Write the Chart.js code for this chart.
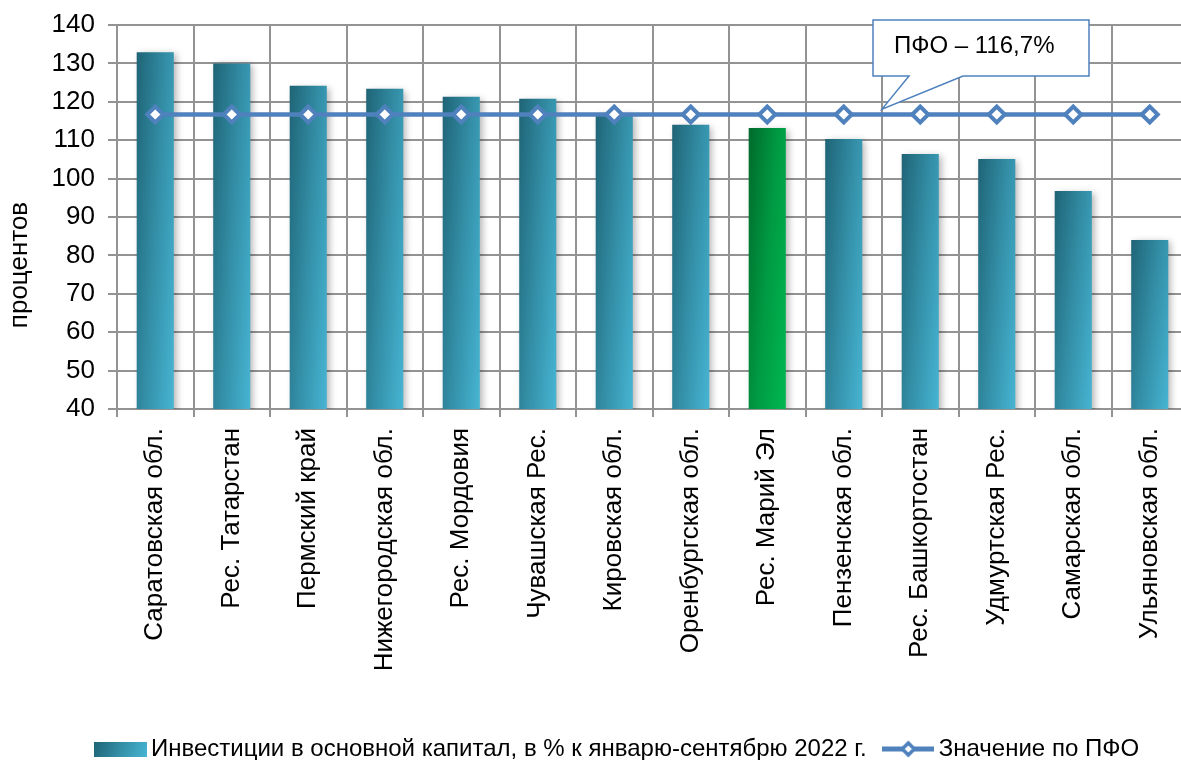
<!DOCTYPE html>
<html>
<head>
<meta charset="utf-8">
<script src="https://cdn.jsdelivr.net/npm/chart.js@4.4.1/dist/chart.umd.min.js"></script>
<style>
html,body{margin:0;padding:0;background:#ffffff;overflow:hidden;}
#wrap{width:1200px;height:771px;position:relative;}
</style>
</head>
<body>
<div id="wrap"><canvas id="c" width="1200" height="771"></canvas></div>
<script>
const categories = [
  'Саратовская обл.', 'Рес. Татарстан', 'Пермский край', 'Нижегородская обл.',
  'Рес. Мордовия', 'Чувашская Рес.', 'Кировская обл.', 'Оренбургская обл.',
  'Рес. Марий Эл', 'Пензенская обл.', 'Рес. Башкортостан', 'Удмуртская Рес.',
  'Самарская обл.', 'Ульяновская обл.'
];
const investValues = [132.9, 130.0, 124.2, 123.4, 121.3, 120.8, 117.1, 114.0, 113.2, 110.3, 106.4, 105.1, 96.8, 84.0];
const pfoValues = [116.7, 116.7, 116.7, 116.7, 116.7, 116.7, 116.7, 116.7, 116.7, 116.7, 116.7, 116.7, 116.7, 116.7];
const yTickLabels = ['40', '50', '60', '70', '80', '90', '100', '110', '120', '130', '140'];
const seriesNames = ['Инвестиции в основной капитал, в % к январю-сентябрю 2022 г.', 'Значение по ПФО'];
const yAxisTitle = 'процентов';
const calloutText = 'ПФО – 116,7%';
const highlightCategory = 'Рес. Марий Эл';

const FONT = "'Liberation Sans', Arial, sans-serif";
const GRID = '#939393';
const LINE_BLUE = '#4F81BD';
const BAR_PCT = 0.485;

function makeGradient(ctx, x0, y0, w, h, c0, c1, c2) {
  const a = 0.62 / w, b = 0.38 / h;
  const d = a * a + b * b;
  const vx = a / d, vy = b / d;
  const g = ctx.createLinearGradient(x0, y0, x0 + vx, y0 + vy);
  g.addColorStop(0, c0);
  g.addColorStop(0.5, c1);
  g.addColorStop(1, c2);
  return g;
}

function barColor(context) {
  const chart = context.chart;
  const area = chart.chartArea;
  const green = categories[context.dataIndex] === highlightCategory;
  if (!area || context.type !== 'data') return green ? '#00A046' : '#3590A8';
  const xs = chart.scales.x, ys = chart.scales.y;
  const cx = xs.getPixelForValue(context.dataIndex);
  const w = (xs.width / categories.length) * BAR_PCT;
  const top = ys.getPixelForValue(investValues[context.dataIndex]);
  const h = Math.max(area.bottom - top, 1);
  if (green) return makeGradient(chart.ctx, cx - w / 2, top, w, h, '#006A2C', '#009A42', '#00B851');
  return makeGradient(chart.ctx, cx - w / 2, top, w, h, '#1F6476', '#338EA6', '#47B5D3');
}

function legendBarSwatch() {
  const c = document.createElement('canvas');
  c.width = 53; c.height = 15;
  const x = c.getContext('2d');
  const g = x.createLinearGradient(0, 0, 53, 15);
  g.addColorStop(0, '#1F6476'); g.addColorStop(0.5, '#338EA6'); g.addColorStop(1, '#47B5D3');
  x.fillStyle = g; x.fillRect(0, 0, 53, 15);
  return c;
}
function legendLineSwatch() {
  const c = document.createElement('canvas');
  c.width = 52; c.height = 20;
  const x = c.getContext('2d');
  x.strokeStyle = LINE_BLUE; x.lineWidth = 5;
  x.beginPath(); x.moveTo(0, 10); x.lineTo(52, 10); x.stroke();
  x.beginPath(); x.moveTo(26, 4); x.lineTo(32, 10); x.lineTo(26, 16); x.lineTo(20, 10); x.closePath();
  x.fillStyle = '#ffffff'; x.fill(); x.lineWidth = 3.5; x.stroke();
  return c;
}

const shadowPlugin = {
  id: 'barShadow',
  beforeDatasetDraw(chart, args) {
    if (args.index !== 0) return;
    const ctx = chart.ctx;
    ctx.save();
    ctx.shadowColor = 'rgba(0,0,0,0.3)';
    ctx.shadowBlur = 7;
    ctx.shadowOffsetX = 3;
    ctx.shadowOffsetY = 2;
  },
  afterDatasetDraw(chart, args) {
    if (args.index !== 0) return;
    chart.ctx.restore();
  }
};

const titlePlugin = {
  id: 'yTitle',
  afterDraw(chart) {
    const ctx = chart.ctx;
    ctx.save();
    ctx.translate(20, 265);
    ctx.rotate(-Math.PI / 2);
    ctx.font = '26px ' + FONT;
    ctx.fillStyle = '#000';
    ctx.textAlign = 'center';
    ctx.textBaseline = 'middle';
    ctx.fillText(yAxisTitle, 0, 0);
    ctx.restore();
  }
};

const calloutPlugin = {
  id: 'callout',
  afterDatasetsDraw(chart) {
    const ctx = chart.ctx;
    const xs = chart.scales.x, ys = chart.scales.y;
    const tipX = xs.getPixelForValue(9.5);
    const tipY = ys.getPixelForValue(118.1);
    const L = 873, T = 20, R = 1089, B = 76;
    ctx.save();
    ctx.beginPath();
    ctx.moveTo(L, T); ctx.lineTo(R, T); ctx.lineTo(R, B);
    ctx.lineTo(963, B); ctx.lineTo(tipX, tipY); ctx.lineTo(909, B);
    ctx.lineTo(L, B); ctx.closePath();
    ctx.fillStyle = '#ffffff';
    ctx.fill();
    ctx.strokeStyle = LINE_BLUE;
    ctx.lineWidth = 1.5;
    ctx.stroke();
    ctx.font = '24px ' + FONT;
    ctx.fillStyle = '#000';
    ctx.textAlign = 'left';
    ctx.textBaseline = 'middle';
    ctx.fillText(calloutText, 894, 46);
    ctx.restore();
  }
};

const ctx = document.getElementById('c').getContext('2d');
new Chart(ctx, {
  type: 'bar',
  data: {
    labels: categories,
    datasets: [
      {
        type: 'bar',
        label: seriesNames[0],
        data: investValues,
        backgroundColor: barColor,
        borderWidth: 0,
        barPercentage: BAR_PCT,
        categoryPercentage: 1,
        order: 2
      },
      {
        type: 'line',
        label: seriesNames[1],
        data: pfoValues,
        borderColor: LINE_BLUE,
        borderWidth: 4.5,
        tension: 0,
        fill: false,
        pointStyle: 'rectRot',
        pointRadius: 8,
        pointBorderWidth: 4,
        pointBackgroundColor: '#ffffff',
        pointBorderColor: LINE_BLUE,
        order: 1
      }
    ]
  },
  options: {
    responsive: false,
    animation: false,
    layout: { padding: { left: 53, right: 12, top: 25, bottom: 0 } },
    scales: {
      x: {
        grid: { offset: true, color: GRID, lineWidth: 2, tickLength: 8 },
        border: { color: GRID, width: 2 },
        ticks: {
          autoSkip: false, maxRotation: 90, minRotation: 90, padding: 11,
          color: '#000', font: { family: FONT, size: 26 }
        },
        afterFit(s) {
          const lh = s.chart.legend ? s.chart.legend.height : 57;
          s.height = s.chart.height - 409 - lh;
        }
      },
      y: {
        min: 40, max: 140,
        afterBuildTicks(s) { s.ticks = yTickLabels.map(v => ({ value: Number(v) })); },
        ticks: {
          padding: 13, color: '#000', font: { family: FONT, size: 26 },
          callback: (v) => String(v)
        },
        grid: { color: GRID, lineWidth: 2, tickLength: 9 },
        border: { color: GRID, width: 2 },
        afterFit(s) { s.width = 64; s.paddingTop = 0; s.paddingBottom = 0; }
      }
    },
    plugins: {
      tooltip: { enabled: false },
      legend: {
        position: 'bottom',
        labels: {
          usePointStyle: true,
          pointStyleWidth: 37,
          padding: 23,
          color: '#000',
          font: { family: FONT, size: 24 },
          generateLabels(chart) {
            const imgs = [legendBarSwatch(), legendLineSwatch()];
            return chart.data.datasets.map((ds, i) => ({
              text: ds.label,
              datasetIndex: i,
              hidden: false,
              fillStyle: '#fff',
              strokeStyle: '#fff',
              lineWidth: 0,
              pointStyle: imgs[i],
              rotation: 0,
              fontColor: '#000'
            }));
          }
        }
      }
    }
  },
  plugins: [shadowPlugin, titlePlugin, calloutPlugin]
});
</script>
</body>
</html>
